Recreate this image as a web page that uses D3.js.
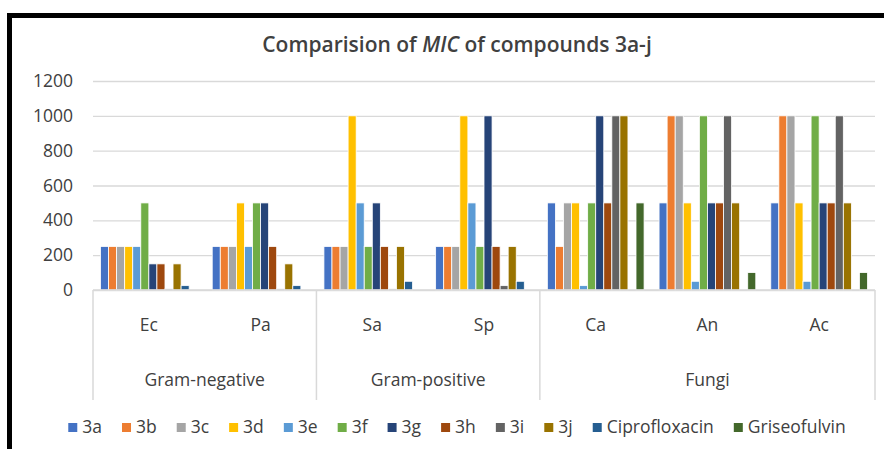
<!DOCTYPE html>
<html>
<head>
<meta charset="utf-8">
<script src="https://cdn.jsdelivr.net/npm/d3@7"></script>
<style>
  html, body { margin: 0; padding: 0; background: #fff; }
  svg { display: block; }
  text { font-family: "Open Sans", "Noto Sans", sans-serif; fill: #404040; }
</style>
</head>
<body>
<svg id="chart" width="884" height="449"></svg>
<script>
// ---- data ----
const categories = ["Ec", "Pa", "Sa", "Sp", "Ca", "An", "Ac"];
const groupNames = ["Gram-negative", "Gram-positive", "Fungi"];
const groupSizes = [2, 2, 3];
const seriesNames = ["3a", "3b", "3c", "3d", "3e", "3f", "3g", "3h", "3i", "3j", "Ciprofloxacin", "Griseofulvin"];
const seriesColors = ["#4472C4", "#ED7D31", "#A5A5A5", "#FFC000", "#5B9BD5", "#70AD47", "#264478", "#9E480E", "#636363", "#997300", "#255E91", "#43682B"];
const v3a = [250, 250, 250, 250, 500, 500, 500];
const v3b = [250, 250, 250, 250, 250, 1000, 1000];
const v3c = [250, 250, 250, 250, 500, 1000, 1000];
const v3d = [250, 500, 1000, 1000, 500, 500, 500];
const v3e = [250, 250, 500, 500, 25, 50, 50];
const v3f = [500, 500, 250, 250, 500, 1000, 1000];
const v3g = [150, 500, 500, 1000, 1000, 500, 500];
const v3h = [150, 250, 250, 250, 500, 500, 500];
const v3i = [6.25, 6.25, 6.25, 25, 1000, 1000, 1000];
const v3j = [150, 150, 250, 250, 1000, 500, 500];
const vCipro = [25, 25, 50, 50, 0, 0, 0];
const vGriseo = [0, 0, 0, 0, 500, 100, 100];
const seriesValues = [v3a, v3b, v3c, v3d, v3e, v3f, v3g, v3h, v3i, v3j, vCipro, vGriseo];
const yTicks = [0, 200, 400, 600, 800, 1000, 1200];

// ---- layout ----
const svg = d3.select("#chart");
const plot = { left: 93, right: 875, top: 81, bottom: 290 };
const axisBottom = 400;
const fontSize = 17.5;

// chart border (thick black frame, cropped at right/bottom)
svg.append("rect")
  .attr("x", 9.5).attr("y", 15.5)
  .attr("width", 1000).attr("height", 1000)
  .attr("fill", "none").attr("stroke", "#000").attr("stroke-width", 5);

const x0 = d3.scaleBand().domain(categories).range([plot.left, plot.right]).padding(0);
const x1 = d3.scaleBand().domain(seriesNames).range([7.5, x0.bandwidth() - 7.5]).padding(0);
const y = d3.scaleLinear().domain([0, 1200]).range([plot.bottom, plot.top]);

// gridlines + y labels
const yAxis = d3.axisLeft(y).tickValues(yTicks).tickFormat(d3.format("d"))
  .tickSize(-(plot.right - plot.left)).tickPadding(20);
const gy = svg.append("g").attr("transform", `translate(${plot.left},0)`).call(yAxis);
gy.select(".domain").remove();
gy.selectAll(".tick line").attr("stroke", "#d9d9d9").attr("stroke-width", 1.3);
gy.selectAll(".tick text").attr("font-size", fontSize).attr("fill", "#404040")
  .style("font-family", "'Open Sans', 'Noto Sans', sans-serif");

// bars
const catG = svg.append("g").selectAll("g").data(categories).join("g")
  .attr("transform", d => `translate(${x0(d)},0)`);
catG.selectAll("rect")
  .data((c, ci) => seriesNames.map((s, si) => ({ s, si, v: seriesValues[si][ci] })).filter(d => d.v > 0))
  .join("rect")
  .attr("x", d => x1(d.s))
  .attr("width", x1.bandwidth())
  .attr("y", d => y(d.v))
  .attr("height", d => y(0) - y(d.v))
  .attr("fill", d => seriesColors[d.si])
  .attr("stroke", "#fff").attr("stroke-width", 0.8);

// category axis box
const axisG = svg.append("g");
axisG.append("line").attr("x1", plot.left).attr("x2", plot.right)
  .attr("y1", plot.bottom).attr("y2", plot.bottom)
  .attr("stroke", "#d9d9d9").attr("stroke-width", 1.5);
const bounds = [0];
groupSizes.reduce((acc, n) => { bounds.push(acc + n); return acc + n; }, 0);
bounds.forEach(b => {
  const xx = b < categories.length ? x0(categories[b]) : plot.right;
  axisG.append("line").attr("x1", xx).attr("x2", xx)
    .attr("y1", plot.bottom).attr("y2", axisBottom)
    .attr("stroke", "#d9d9d9").attr("stroke-width", 1.5);
});
axisG.selectAll("text.cat").data(categories).join("text").attr("class", "cat")
  .attr("x", d => x0(d) + x0.bandwidth() / 2).attr("y", 331)
  .attr("text-anchor", "middle").attr("font-size", fontSize).text(d => d);
axisG.selectAll("text.grp").data(groupNames).join("text").attr("class", "grp")
  .attr("x", (d, i) => {
    const a = x0(categories[bounds[i]]);
    const b = bounds[i + 1] < categories.length ? x0(categories[bounds[i + 1]]) : plot.right;
    return (a + b) / 2;
  })
  .attr("y", 386).attr("text-anchor", "middle").attr("font-size", fontSize).text(d => d);

// title
const title = svg.append("text").attr("x", 457).attr("y", 52)
  .attr("text-anchor", "middle").attr("font-size", 21).attr("font-weight", 600).attr("fill", "#000");
title.append("tspan").text("Comparision of ");
title.append("tspan").attr("font-style", "italic").text("MIC");
title.append("tspan").text(" of compounds 3a-j");

// legend (flow layout, centered)
const legG = svg.append("g");
const items = legG.selectAll("g").data(seriesNames).join("g");
items.append("rect").attr("width", 9).attr("height", 9).attr("y", -10).attr("fill", (d, i) => seriesColors[i]);
items.append("text").attr("x", 14).attr("y", 0).attr("font-size", fontSize).text(d => d);
let cx = 0;
const gap = 20;
items.each(function () {
  const g = d3.select(this);
  const w = 14 + g.select("text").node().getComputedTextLength();
  g.attr("transform", `translate(${cx},0)`);
  cx += w + gap;
});
const total = cx - gap;
legG.attr("transform", `translate(${457 - total / 2},433)`);
</script>
</body>
</html>
